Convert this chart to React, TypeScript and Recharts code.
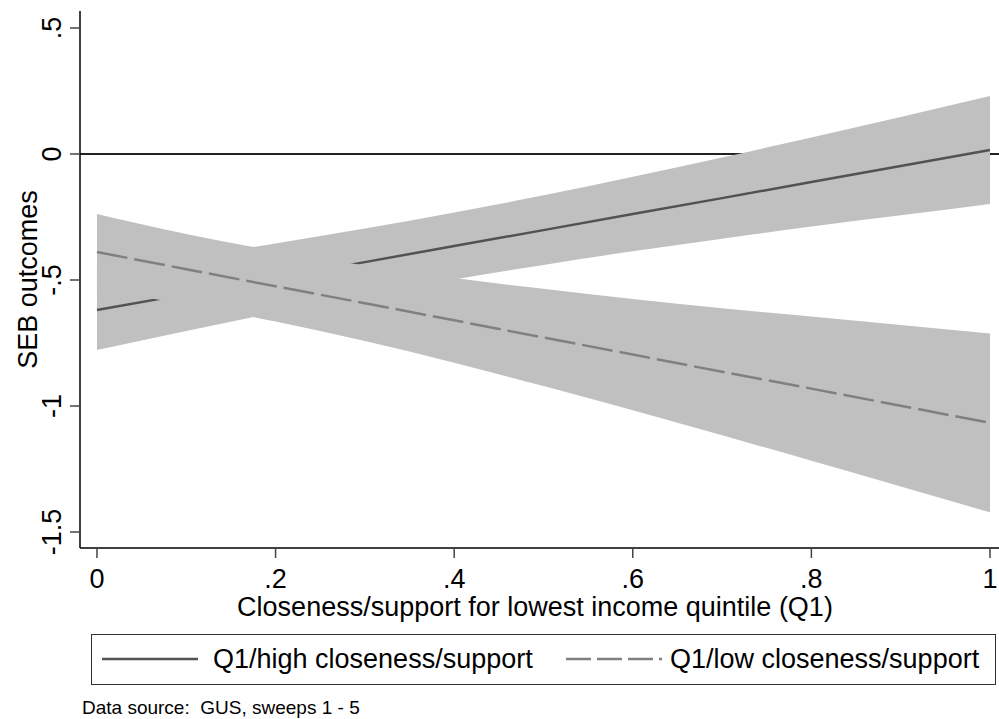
import React from "react";
import {
  ComposedChart,
  Area,
  Line,
  XAxis,
  YAxis,
  ReferenceLine,
} from "recharts";

// Closeness/support levels where the fitted values are evaluated
const closeness = [0, 0.1, 0.2, 0.3, 0.4, 0.5, 0.6, 0.7, 0.8, 0.9, 1];

// Q1 / high closeness/support: linear fit and 95% CI
const highFit = [-0.619, -0.556, -0.492, -0.429, -0.365, -0.302, -0.238, -0.175, -0.111, -0.048, 0.016];
const highLower = [-0.778, -0.702, -0.629, -0.562, -0.498, -0.44, -0.386, -0.336, -0.288, -0.243, -0.198];
const highUpper = [-0.46, -0.41, -0.355, -0.296, -0.232, -0.164, -0.09, -0.014, 0.066, 0.147, 0.23];

// Q1 / low closeness/support: linear fit and 95% CI
const lowFit = [-0.389, -0.457, -0.525, -0.592, -0.66, -0.728, -0.796, -0.864, -0.931, -0.999, -1.067];
const lowLower = [-0.54, -0.597, -0.665, -0.742, -0.828, -0.921, -1.017, -1.116, -1.217, -1.319, -1.422];
const lowUpper = [-0.238, -0.317, -0.385, -0.442, -0.492, -0.535, -0.575, -0.612, -0.645, -0.679, -0.712];

const xTicks = [0, 0.2, 0.4, 0.6, 0.8, 1];
const yTicks = [-1.5, -1, -0.5, 0, 0.5];

const seriesNames = ["Q1/high closeness/support", "Q1/low closeness/support"];
const xTitle = "Closeness/support for lowest income quintile (Q1)";
const yTitle = "SEB outcomes";
const sourceNote = "Data source:  GUS, sweeps 1 - 5";

const data = closeness.map((x, i) => ({
  x,
  highFit: highFit[i],
  highBand: [highLower[i], highUpper[i]],
  lowFit: lowFit[i],
  lowBand: [lowLower[i], lowUpper[i]],
}));

const FONT = "'Liberation Sans', Arial, Helvetica, sans-serif";
const FS = 27;
const BAND = "#c0c0c0";
const SOLID = "#525252";
const DASHED = "#808080";

// Stata-style numbers: ".5", "-.5", "-1.5"
const fmt = (v: number) => {
  if (v === 0) return "0";
  const s = String(Math.abs(v)).replace(/^0\./, ".");
  return (v < 0 ? "-" : "") + s;
};

const YTick = (props: any) => {
  const { y, payload } = props;
  const tx = 61;
  return (
    <text
      x={tx}
      y={y}
      transform={`rotate(-90 ${tx} ${y})`}
      textAnchor="middle"
      fontSize={FS}
      fontFamily={FONT}
      fill="#000"
    >
      {fmt(payload.value)}
    </text>
  );
};

const XTick = (props: any) => {
  const { x, payload } = props;
  return (
    <text x={x} y={588} textAnchor="middle" fontSize={FS} fontFamily={FONT} fill="#000">
      {fmt(payload.value)}
    </text>
  );
};

const YTitle = (props: any) => {
  const vb = props.viewBox || {};
  const cx = 37;
  const cy = (vb.y ?? 11) + (vb.height ?? 537) / 2;
  return (
    <text
      x={cx}
      y={cy}
      transform={`rotate(-90 ${cx} ${cy})`}
      textAnchor="middle"
      fontSize={FS}
      fontFamily={FONT}
      fill="#000"
    >
      {yTitle}
    </text>
  );
};

const XTitle = () => (
  <text x={535} y={616} textAnchor="middle" fontSize={FS} fontFamily={FONT} fill="#000">
    {xTitle}
  </text>
);

const LegendBox = () => (
  <div
    style={{
      position: "absolute",
      left: 91,
      top: 634,
      width: 905,
      height: 51,
      boxSizing: "border-box",
      border: "1.5px solid #333",
      background: "#fff",
    }}
  >
    <svg width={902} height={48} style={{ position: "absolute", left: 0, top: 0 }}>
      <line x1={10} x2={106} y1={24} y2={24} stroke={SOLID} strokeWidth={2.5} />
      <text x={121} y={33} fontSize={FS} fontFamily={FONT} fill="#000">
        {seriesNames[0]}
      </text>
      <line
        x1={474}
        x2={570}
        y1={24}
        y2={24}
        stroke={DASHED}
        strokeWidth={2.5}
        strokeDasharray="25 6"
      />
      <text x={578} y={33} fontSize={FS} fontFamily={FONT} fill="#000">
        {seriesNames[1]}
      </text>
    </svg>
  </div>
);

export default function App() {
  return (
    <div
      style={{
        position: "absolute",
        left: 0,
        top: 0,
        width: 999,
        height: 719,
        background: "#fff",
        fontFamily: FONT,
        overflow: "hidden",
      }}
    >
      <ComposedChart
        width={999}
        height={719}
        data={data}
        margin={{ top: 11, right: 0, bottom: 111, left: 0 }}
      >
        <XAxis
          type="number"
          dataKey="x"
          domain={[-0.019, 1.0101]}
          ticks={xTicks}
          allowDataOverflow
          height={60}
          tickSize={10}
          axisLine={{ stroke: "#000", strokeWidth: 1.5 }}
          tickLine={{ stroke: "#444", strokeWidth: 1.5 }}
          tick={<XTick />}
          label={<XTitle />}
        />
        <YAxis
          type="number"
          domain={[-1.5635, 0.5675]}
          ticks={yTicks}
          allowDataOverflow
          width={80}
          tickSize={10}
          axisLine={{ stroke: "#000", strokeWidth: 1.5 }}
          tickLine={{ stroke: "#444", strokeWidth: 1.5 }}
          tick={<YTick />}
          label={<YTitle />}
        />
        <ReferenceLine y={0} stroke="#222" strokeWidth={2} zIndex={50} />
        <Area
          type="monotoneX"
          dataKey="highBand"
          fill={BAND}
          fillOpacity={1}
          stroke="none"
          isAnimationActive={false}
          name={seriesNames[0] + " CI"}
          zIndex={100}
        />
        <Line
          type="linear"
          dataKey="highFit"
          stroke={SOLID}
          strokeWidth={2.5}
          dot={false}
          isAnimationActive={false}
          name={seriesNames[0]}
          zIndex={150}
        />
        <Area
          type="monotoneX"
          dataKey="lowBand"
          fill={BAND}
          fillOpacity={1}
          stroke="none"
          isAnimationActive={false}
          name={seriesNames[1] + " CI"}
          zIndex={200}
        />
        <Line
          type="linear"
          dataKey="lowFit"
          stroke={DASHED}
          strokeWidth={2.5}
          strokeDasharray="31 7"
          dot={false}
          isAnimationActive={false}
          name={seriesNames[1]}
          zIndex={250}
        />
      </ComposedChart>
      <LegendBox />
      <div
        style={{
          position: "absolute",
          left: 82,
          top: 697,
          fontSize: 19,
          lineHeight: "22px",
          fontFamily: FONT,
          color: "#000",
          whiteSpace: "pre",
        }}
      >
        {sourceNote}
      </div>
    </div>
  );
}
